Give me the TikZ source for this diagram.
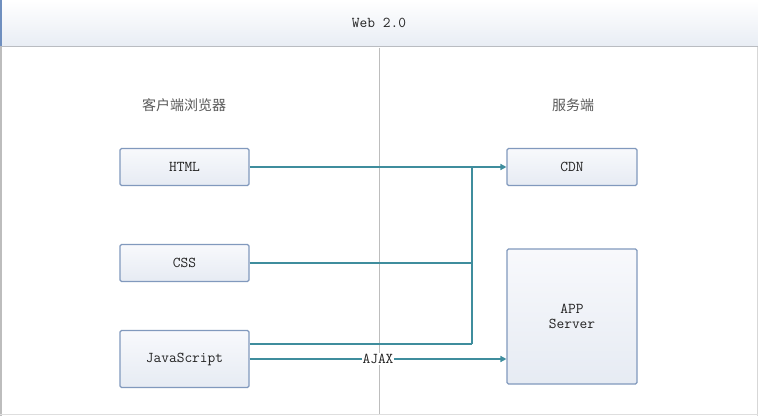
\documentclass[tikz,border=0pt]{standalone}
\usepackage{fontspec}
\newfontfamily\cjk{Noto Sans CJK SC}
\usetikzlibrary{arrows.meta}
\definecolor{boxline}{HTML}{8199BD}
\definecolor{boxtop}{HTML}{F8F9FC}
\definecolor{boxbot}{HTML}{E6EBF3}
\definecolor{wire}{HTML}{3F8D9D}
\definecolor{divider}{HTML}{BDBDBD}
\definecolor{txt}{HTML}{222222}
\definecolor{hdrline}{HTML}{B9BCC1}
\definecolor{edgeblue}{HTML}{6F8FBF}
\newcommand\monofnt{\ttfamily\fontsize{15}{16}\selectfont}
\tikzset{
  comp/.style={draw=boxline, line width=1.1pt, rounded corners=1.5pt,
    top color=boxtop, bottom color=boxbot, text=txt,
    font=\monofnt, align=center, inner sep=0pt},
  wireline/.style={draw=wire, line width=1.4pt},
  wirearrow/.style={wireline, -{Triangle[length=6pt,width=6pt]}},
  lbl/.style={text=txt!75, font=\cjk\fontsize{14}{16}\selectfont, inner sep=0pt}
}
\begin{document}
\begin{tikzpicture}[x=1pt,y=-1pt]
\useasboundingbox (0,0) rectangle (758,416);
% frame
\fill[white] (0,0) rectangle (758,416);
\shade[top color=white, bottom color=boxbot!90] (0,0) rectangle (758,46);
\draw[hdrline, line width=1.6pt] (0,46.5) -- (758,46.5);
\draw[edgeblue, line width=1.5pt] (0.75,0) -- (0.75,46);
\draw[divider, line width=1.5pt] (0.75,47) -- (0.75,416);
\draw[divider!60, line width=0.8pt] (757.5,47) -- (757.5,416);
\draw[divider!50, line width=0.8pt] (0,414.5) -- (758,414.5);
\node[text=txt, font=\monofnt] (title) at (379,23) {Web 2.0};
% divider
\draw[divider, line width=1.5pt] (379.5,47.5) -- (379.5,414);
% section labels
\node[lbl] (client) at (184,105) {客户端浏览器};
\node[lbl] (server) at (573,105) {服务端};
% boxes
\node[comp, minimum width=129pt, minimum height=37pt] (html) at (184.5,167) {HTML};
\node[comp, minimum width=129pt, minimum height=37pt] (css) at (184.5,263) {CSS};
\node[comp, minimum width=129pt, minimum height=57pt] (js) at (184.5,359) {JavaScript};
\node[comp, minimum width=130pt, minimum height=37pt] (cdn) at (572,167) {CDN};
\node[comp, minimum width=130pt, minimum height=135pt] (app) at (572,316.5) {APP\\[-1pt]Server};
% junction points
\coordinate (jtop) at (472,167);
\coordinate (jcss) at (472,263);
\coordinate (jbot) at (472,344);
\coordinate (appin) at (app.west |- js.east);
% connectors
\draw[wirearrow] (html.east) -- (cdn.west);
\draw[wireline] (jtop) -- (jbot);
\draw[wireline] (css.east) -- (jcss);
\draw[wireline] (js.east |- jbot) -- (jbot);
\draw[wirearrow] (js.east) -- node[pos=0.5, fill=white, inner sep=1pt, text=txt, font=\monofnt] (ajax) {AJAX} (appin);
\end{tikzpicture}
\end{document}
